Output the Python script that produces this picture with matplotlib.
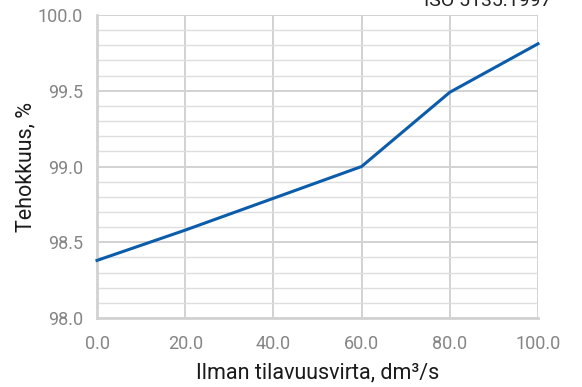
import matplotlib
matplotlib.use("Agg")
import matplotlib.pyplot as plt
from matplotlib.ticker import MultipleLocator, FormatStrFormatter

# Efficiency vs. air volume flow
flow = [0, 20, 40, 60, 80, 100]
efficiency = [98.38, 98.58, 98.79, 99.00, 99.49, 99.81]
x_ticks = [0, 20, 40, 60, 80, 100]
y_ticks = [98.0, 98.5, 99.0, 99.5, 100.0]

plt.rcParams["font.family"] = ["Roboto", "DejaVu Sans"]

fig = plt.figure(figsize=(5.82, 3.87), dpi=100)
ax = fig.add_axes([97 / 582, 1 - 318 / 387, 441 / 582, 303 / 387])

ax.plot(flow, efficiency, color="#0b5cab", linewidth=2.2, solid_joinstyle="miter",
        zorder=3, clip_on=False)

ax.set_xlim(0, 100)
ax.set_ylim(98.0, 100.0)
ax.set_xticks(x_ticks)
ax.set_yticks(y_ticks)
ax.xaxis.set_major_formatter(FormatStrFormatter("%.1f"))
ax.yaxis.set_major_formatter(FormatStrFormatter("%.1f"))
ax.yaxis.set_minor_locator(MultipleLocator(0.1))

ax.grid(which="major", axis="both", color="#d2d2d2", linewidth=1.4, zorder=0)
ax.grid(which="minor", axis="y", color="#dedede", linewidth=1.0, zorder=0)
ax.set_axisbelow(True)

for side in ("top", "right"):
    ax.spines[side].set_visible(False)
for side in ("left", "bottom"):
    ax.spines[side].set_color("#d2d2d2")
    ax.spines[side].set_linewidth(2.0)

ax.tick_params(which="both", length=0)
ax.tick_params(axis="x", pad=12, labelsize=13, labelcolor="#858585")
ax.tick_params(axis="y", pad=10, labelsize=13, labelcolor="#858585")

ax.set_xlabel("Ilman tilavuusvirta, dm³/s", fontsize=15.5, color="#1a1a1a", labelpad=7)
ax.set_ylabel("Tehokkuus, %", fontsize=15.5, color="#1a1a1a", labelpad=1)

fig.text(552 / 582, 1 - 6 / 387, "ISO 5135:1997", ha="right", va="baseline",
         fontsize=14, color="#222222")

fig.savefig("out.png", dpi=100)
